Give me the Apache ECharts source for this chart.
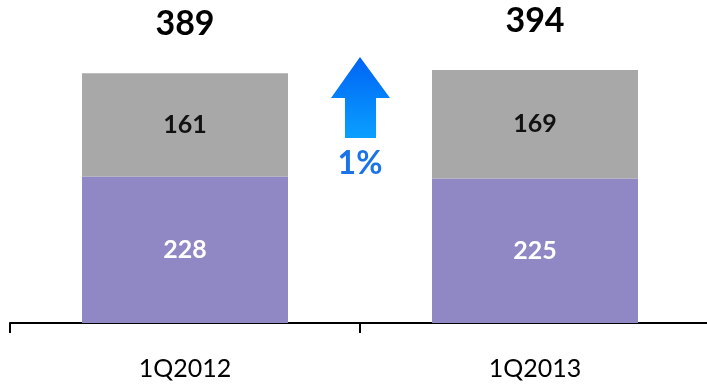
<!DOCTYPE html>
<html>
<head>
<meta charset="utf-8">
<style>
  html, body { margin: 0; padding: 0; background: #fff; }
  #chart { width: 707px; height: 387px; }
</style>
<script src="https://cdn.jsdelivr.net/npm/echarts@6/dist/echarts.min.js"></script>
</head>
<body>
<div id="chart"></div>
<script>
// Quarterly figures, stacked: base segment plus upper segment
const categories = ['1Q2012', '1Q2013'];
const baseValues = [228, 225];
const upperValues = [161, 169];
const changeLabel = '1%';

const totals = baseValues.map((v, i) => v + upperValues[i]);
const FONT = 'Lato, "Open Sans", sans-serif';

const chart = echarts.init(document.getElementById('chart'));

const option = {
  animation: false,
  grid: { left: 10, width: 700, top: 2, bottom: 64, outerBoundsMode: 'none' },
  xAxis: {
    type: 'category',
    data: categories,
    axisLine: { lineStyle: { color: '#000', width: 2 } },
    axisTick: { show: true, length: 10, lineStyle: { color: '#000', width: 2 } },
    axisLabel: { color: '#000', fontSize: 25, fontFamily: FONT, margin: 33 }
  },
  yAxis: { type: 'value', min: 0, max: 500, show: false },
  series: [
    {
      type: 'bar', stack: 'q', data: baseValues, barWidth: 206,
      itemStyle: { color: '#8f88c4' },
      label: { show: true, position: 'inside', color: '#fff', fontSize: 25,
               fontWeight: 'bold', fontFamily: FONT }
    },
    {
      type: 'bar', stack: 'q', data: upperValues, barWidth: 206,
      itemStyle: { color: '#a8a8a8' },
      label: { show: true, position: 'inside', color: '#111', fontSize: 25,
               fontWeight: 'bold', fontFamily: FONT }
    },
    {
      // zero-height cap carrying the total above each stack
      type: 'bar', stack: 'q', data: totals.map(() => 0), barWidth: 206,
      itemStyle: { color: 'transparent' },
      label: { show: true, position: 'top', distance: 32, color: '#000',
               fontSize: 34, fontWeight: 'bold', fontFamily: FONT,
               formatter: p => totals[p.dataIndex] }
    }
  ]
};
chart.setOption(option);

// Growth arrow between the two bars
const midX = (chart.convertToPixel({ xAxisIndex: 0 }, 0) +
              chart.convertToPixel({ xAxisIndex: 0 }, 1)) / 2;
chart.setOption({
  graphic: [
    {
      type: 'polygon',
      shape: { points: [[midX, 57], [midX + 30, 98], [midX + 16, 98], [midX + 16, 138],
                        [midX - 15, 138], [midX - 15, 98], [midX - 29, 98]] },
      style: {
        fill: new echarts.graphic.LinearGradient(0, 0, 0, 1, [
          { offset: 0, color: '#0063f5' },
          { offset: 1, color: '#0aa0ff' }
        ])
      }
    },
    {
      type: 'text', x: midX, y: 164,
      style: { text: changeLabel, fill: '#1a73e8', fontSize: 32, fontWeight: 'bold',
               fontFamily: FONT, align: 'center', verticalAlign: 'middle' }
    }
  ]
});
</script>
</body>
</html>
